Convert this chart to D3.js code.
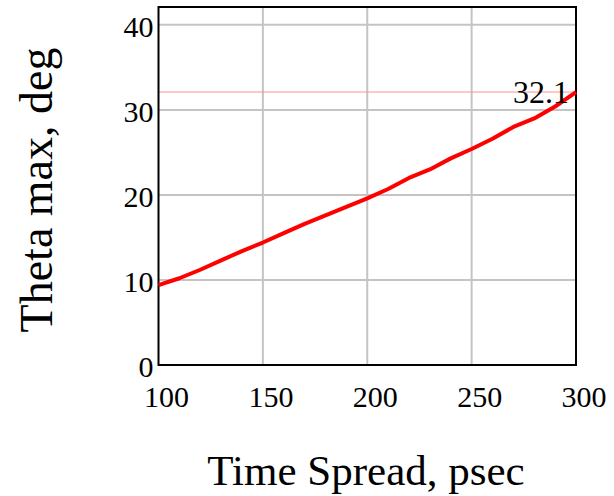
<!DOCTYPE html>
<html>
<head>
<meta charset="utf-8">
<script src="https://d3js.org/d3.v7.min.js"></script>
<style>
  body { margin: 0; background: #fff; }
  text { font-family: "Liberation Serif", "Times New Roman", serif; fill: #000; }
</style>
</head>
<body>
<svg id="chart" width="614" height="496"></svg>
<script>
// data
const timeSpread = [100, 110, 120, 130, 140, 150, 160, 170, 180, 190, 200,
                    210, 220, 230, 240, 250, 260, 270, 280, 290, 300];
const thetaMax = [9.4, 10.2, 11.2, 12.3, 13.4, 14.4, 15.5, 16.6, 17.6, 18.6, 19.6,
                  20.7, 22.0, 23.0, 24.3, 25.4, 26.6, 28.0, 29.0, 30.4, 32.1];
const xTicks = [100, 150, 200, 250, 300];
const yTicks = [0, 10, 20, 30, 40];
const markerValue = 32.1;

const svg = d3.select('#chart');
const margin = { top: 7, right: 38, bottom: 131, left: 158.5 };
const width = +svg.attr('width');
const height = +svg.attr('height');

const x = d3.scaleLinear()
    .domain([100, 300])
    .range([margin.left, width - margin.right]);

const y = d3.scaleLinear()
    .domain([0, 42.1])
    .range([height - margin.bottom, margin.top]);

// grid
svg.append('g')
    .selectAll('line')
    .data(xTicks.slice(1, -1))
    .enter().append('line')
    .attr('x1', d => x(d)).attr('x2', d => x(d))
    .attr('y1', y.range()[0]).attr('y2', y.range()[1])
    .attr('stroke', '#c4c4c4')
    .attr('stroke-width', 2);

svg.append('g')
    .selectAll('line')
    .data(yTicks.slice(1))
    .enter().append('line')
    .attr('x1', x.range()[0]).attr('x2', x.range()[1])
    .attr('y1', d => y(d)).attr('y2', d => y(d))
    .attr('stroke', '#c4c4c4')
    .attr('stroke-width', 2);

// marker line for the max value
svg.append('line')
    .attr('x1', x.range()[0]).attr('x2', x.range()[1])
    .attr('y1', y(markerValue)).attr('y2', y(markerValue))
    .attr('stroke', '#ff9090')
    .attr('stroke-width', 1);

// frame
svg.append('rect')
    .attr('x', x.range()[0])
    .attr('y', y.range()[1])
    .attr('width', x.range()[1] - x.range()[0])
    .attr('height', y.range()[0] - y.range()[1])
    .attr('fill', 'none')
    .attr('stroke', '#000')
    .attr('stroke-width', 2);

// data line
const line = d3.line()
    .x((d, i) => x(timeSpread[i]))
    .y(d => y(d));

svg.append('path')
    .datum(thetaMax)
    .attr('d', line)
    .attr('fill', 'none')
    .attr('stroke', '#ff0000')
    .attr('stroke-width', 4)
    .attr('stroke-linejoin', 'round');

svg.append('text')
    .attr('x', x.range()[1] - 7)
    .attr('y', y(markerValue) + 11)
    .attr('text-anchor', 'end')
    .attr('font-size', 32)
    .text(markerValue.toFixed(1));

// tick labels
svg.append('g')
    .selectAll('text')
    .data(xTicks)
    .enter().append('text')
    .attr('x', d => x(d) + 8)
    .attr('y', y(0) + 42)
    .attr('text-anchor', 'middle')
    .attr('font-size', 30)
    .text(d => d);

svg.append('g')
    .selectAll('text')
    .data(yTicks)
    .enter().append('text')
    .attr('x', x.range()[0] - 5)
    .attr('y', d => y(d) + 12)
    .attr('text-anchor', 'end')
    .attr('font-size', 30)
    .text(d => d);

// axis titles
svg.append('text')
    .attr('x', 366)
    .attr('y', 485)
    .attr('text-anchor', 'middle')
    .attr('font-size', 43)
    .text('Time Spread, psec');

svg.append('text')
    .attr('transform', 'translate(52, 190) rotate(-90)')
    .attr('text-anchor', 'middle')
    .attr('font-size', 46)
    .text('Theta max, deg');
</script>
</body>
</html>
